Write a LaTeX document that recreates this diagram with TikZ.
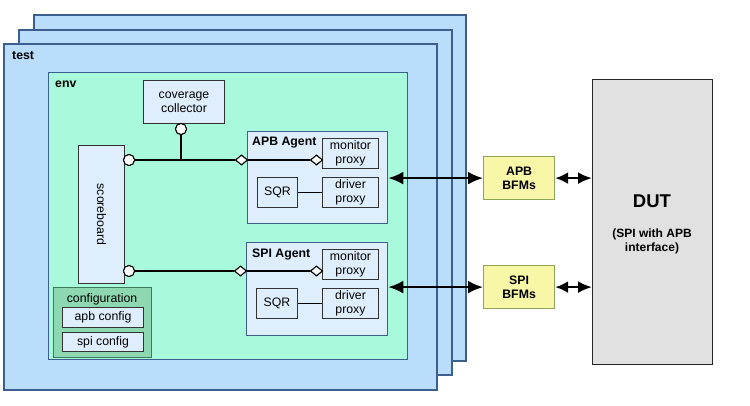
\documentclass[tikz,border=0pt]{standalone}
\usepackage{fontspec}
\setmainfont{Liberation Sans}
\usetikzlibrary{shapes.geometric,arrows.meta}
\definecolor{framefill}{HTML}{B9DDFB}
\definecolor{frameline}{HTML}{3C5F8E}
\definecolor{envfill}{HTML}{A9F9DC}
\definecolor{boxfill}{HTML}{DFEEFD}
\definecolor{cfgfill}{HTML}{8DD8B0}
\definecolor{cfgline}{HTML}{3D7A5C}
\definecolor{bfmfill}{HTML}{F8F7A8}
\definecolor{bfmline}{HTML}{8FA65A}
\definecolor{dutfill}{HTML}{E1E1E1}
\tikzset{
  frame/.style={draw=frameline, fill=framefill, line width=1.8pt, anchor=north west, inner sep=0pt},
  envbox/.style={draw=frameline, fill=envfill, line width=1.4pt, anchor=north west, inner sep=0pt},
  agentbox/.style={draw=frameline, fill=boxfill, line width=1.3pt, anchor=north west, inner sep=0pt},
  compbox/.style={draw=black!80, fill=boxfill, line width=1pt, anchor=north west, inner sep=0pt, align=center, font=\fontsize{12.3}{14}\selectfont},
  cfgbox/.style={draw=cfgline, fill=cfgfill, line width=1.2pt, anchor=north west, inner sep=0pt},
  bfmbox/.style={draw=bfmline, fill=bfmfill, line width=1.2pt, anchor=north west, inner sep=0pt, align=center, font=\bfseries\fontsize{12.3}{14.5}\selectfont},
  dutbox/.style={draw=black!85, fill=dutfill, line width=1.2pt, anchor=north west, inner sep=0pt},
  port/.style={circle, draw=black, fill=white, line width=1pt, minimum size=11pt, inner sep=0pt},
  exportport/.style={diamond, draw=black, fill=white, line width=1pt, minimum width=12pt, minimum height=10pt, inner sep=0pt},
  conn/.style={line width=1.9pt, black},
  biarrow/.style={line width=2.4pt, {Latex[length=15pt,width=13pt]}-{Latex[length=15pt,width=13pt]}},
  shortarrow/.style={line width=2.4pt, {Latex[length=13pt,width=12pt]}-{Latex[length=14pt,width=12pt]}},
  lbl/.style={anchor=west, inner sep=0pt, font=\bfseries\fontsize{12.3}{14}\selectfont},
}
\begin{document}
\begin{tikzpicture}[x=1pt,y=-1pt]
\useasboundingbox (0,0) rectangle (750,405);
% stacked test frames
\node[frame, minimum width=432pt, minimum height=346pt] (frameC) at (33,14) {};
\node[frame, minimum width=433pt, minimum height=345pt] (frameB) at (18,29) {};
\node[frame, minimum width=433pt, minimum height=346pt] (test) at (3,43) {};
\node[lbl] (testlbl) at (12,56) {test};
% env
\node[envbox, minimum width=359pt, minimum height=287pt] (env) at (48,72) {};
\node[lbl] (envlbl) at (55,84) {env};
% coverage collector
\node[compbox, minimum width=81pt, minimum height=43pt] (cov) at (143,80) {coverage\\collector};
\node[port] (covport) at (181,129) {};
% scoreboard
\node[compbox, minimum width=46pt, minimum height=138pt] (sb) at (78,145) {};
\node[rotate=-90, font=\fontsize{12.3}{14}\selectfont] (sblbl) at (sb.center) {scoreboard};
\node[port] (sbport1) at (129,160) {};
\node[port] (sbport2) at (129,271) {};
\coordinate (junc) at (181,160);
% APB agent
\node[agentbox, minimum width=140pt, minimum height=92pt] (apb) at (247,131) {};
\node[lbl] (apblbl) at (252,143) {APB Agent};
\node[compbox, minimum width=56pt, minimum height=30pt] (apbmon) at (322,138) {monitor\\proxy};
\node[compbox, minimum width=56pt, minimum height=30pt] (apbdrv) at (322,177) {driver\\proxy};
\node[compbox, minimum width=40pt, minimum height=30pt] (apbsqr) at (257,177) {SQR};
\node[exportport] (apbexp) at (241.5,160) {};
\node[exportport] (apbmonexp) at (316.5,160) {};
% SPI agent
\node[agentbox, minimum width=141pt, minimum height=93pt] (spi) at (246,242) {};
\node[lbl] (spilbl) at (252,255) {SPI Agent};
\node[compbox, minimum width=56pt, minimum height=30pt] (spimon) at (322,249) {monitor\\proxy};
\node[compbox, minimum width=56pt, minimum height=30pt] (spidrv) at (322,288) {driver\\proxy};
\node[compbox, minimum width=41pt, minimum height=30pt] (spisqr) at (256,288) {SQR};
\node[exportport] (spiexp) at (240.5,271) {};
\node[exportport] (spimonexp) at (316.5,271) {};
% configuration
\node[cfgbox, minimum width=98pt, minimum height=70pt] (cfg) at (53,287) {};
\node[font=\fontsize{12.3}{14}\selectfont, inner sep=0pt] (cfglbl) at (102,299) {configuration};
\node[compbox, minimum width=81pt, minimum height=20pt] (apbcfg) at (62,307) {apb config};
\node[compbox, minimum width=81pt, minimum height=19pt] (spicfg) at (62,332) {spi config};
% BFMs and DUT
\node[bfmbox, minimum width=71pt, minimum height=43pt] (apbbfm) at (483,156) {APB\\BFMs};
\node[bfmbox, minimum width=71pt, minimum height=43pt] (spibfm) at (483,265) {SPI\\BFMs};
\node[dutbox, minimum width=120pt, minimum height=285pt] (dut) at (592,79) {};
\node[font=\bfseries\fontsize{18.5}{22}\selectfont, inner sep=0pt] (dutlbl) at (652,201) {DUT};
\node[font=\bfseries\fontsize{12}{14}\selectfont, align=center, inner sep=0pt] (dutsub) at (652,241) {(SPI with APB\\interface)};
% connectors
\draw[conn] (covport) -- (junc);
\draw[conn] (sbport1) -- (apbexp);
\draw[conn] (apbexp) -- (apbmonexp);
\draw[conn] (sbport2) -- (spiexp);
\draw[conn] (spiexp) -- (spimonexp);
\draw[conn] (apbsqr) -- (apbdrv);
\draw[conn] (spisqr) -- (spidrv);
\node[port] at (sbport1) {};
\node[port] at (sbport2) {};
\node[port] at (covport) {};
\node[exportport] at (apbexp) {};
\node[exportport] at (apbmonexp) {};
\node[exportport] at (spiexp) {};
\node[exportport] at (spimonexp) {};
\draw[biarrow] (apbbfm.west -| apb.east) -- (apbbfm.west);
\draw[biarrow] (spibfm.west -| spi.east) -- (spibfm.west);
\draw[shortarrow] (apbbfm.east) -- (apbbfm.east -| dut.west);
\draw[shortarrow] (spibfm.east) -- (spibfm.east -| dut.west);
\end{tikzpicture}
\end{document}
